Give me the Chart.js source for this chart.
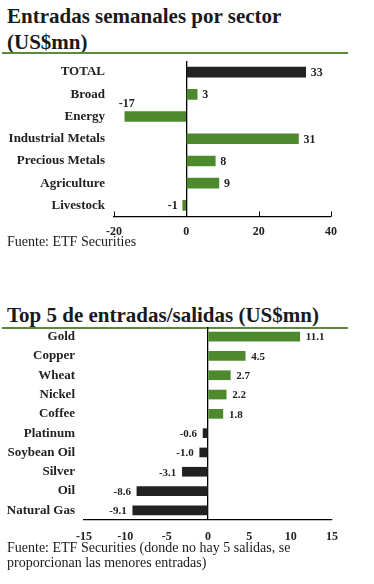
<!DOCTYPE html>
<html>
<head>
<meta charset="utf-8">
<script src="https://cdn.jsdelivr.net/npm/chart.js@4"></script>
<style>
  body { margin: 0; background: #fff; width: 374px; height: 584px; position: relative; overflow: hidden; }
  .title { position: absolute; left: 7px; font: bold 21px "Liberation Serif", serif; color: #1a1a1a; line-height: 26px; }
  .rule { position: absolute; left: 2px; width: 346px; height: 2px; background: #5b8a3c; }
  .note { position: absolute; left: 7px; font: 14px "Liberation Serif", serif; color: #1a1a1a; line-height: 15px; }
  canvas { position: absolute; left: 0; }
</style>
</head>
<body>
<div class="title" style="top:3px">Entradas semanales por sector<br>(US$mn)</div>
<div class="rule" style="top:52px"></div>
<canvas id="chart1" width="374" height="190" style="top:55px"></canvas>
<div class="note" style="top:234px">Fuente: ETF Securities</div>

<div class="title" style="top:302px">Top 5 de entradas/salidas (US$mn)</div>
<div class="rule" style="top:327px"></div>
<canvas id="chart2" width="374" height="230" style="top:325px"></canvas>
<div class="note" style="top:540px">Fuente: ETF Securities (donde no hay 5 salidas, se<br>proporcionan las menores entradas)</div>

<script>
// chart 1 data
const sectors = ["TOTAL", "Broad", "Energy", "Industrial Metals", "Precious Metals", "Agriculture", "Livestock"];
const sectorFlows = [33, 3, -17, 31, 8, 9, -1];
const sectorTicks = [-20, 0, 20, 40];

// chart 2 data
const topNames = ["Gold", "Copper", "Wheat", "Nickel", "Coffee", "Platinum", "Soybean Oil", "Silver", "Oil", "Natural Gas"];
const topFlows = [11.1, 4.5, 2.7, 2.2, 1.8, -0.6, -1.0, -3.1, -8.6, -9.1];
const topTicks = [-15, -10, -5, 0, 5, 10, 15];

const GREEN = "#4d8a2e";
const DARK = "#222222";
const FONT = "'Liberation Serif', serif";

// value labels next to bars
const valueLabels = {
  id: "valueLabels",
  afterDatasetsDraw(chart, args, opts) {
    const ctx = chart.ctx;
    const meta = chart.getDatasetMeta(0);
    const values = chart.data.datasets[0].data;
    ctx.save();
    ctx.font = "bold " + opts.size + "px " + FONT;
    ctx.fillStyle = DARK;
    ctx.textBaseline = "middle";
    meta.data.forEach((bar, i) => {
      const v = values[i];
      const txt = opts.fixed ? v.toFixed(1) : String(v);
      if (v >= 0) {
        ctx.textAlign = "left";
        ctx.fillText(txt, bar.x + opts.gap, bar.y + 1);
      } else if (opts.above && bar.base - bar.x > 30) {
        ctx.textAlign = "center";
        ctx.fillText(txt, bar.x + 2, bar.y - 13);
      } else {
        ctx.textAlign = "right";
        ctx.fillText(txt, bar.x - opts.gap, bar.y + 1);
      }
    });
    ctx.restore();
  }
};

// small upward tick marks on the x axis
const upTicks = {
  id: "upTicks",
  afterDraw(chart, args, opts) {
    if (!opts.show) return;
    const ctx = chart.ctx;
    const xs = chart.scales.x;
    const bottom = chart.chartArea.bottom;
    ctx.save();
    ctx.strokeStyle = "#000";
    ctx.lineWidth = 1;
    xs.ticks.forEach(t => {
      const px = Math.round(xs.getPixelForValue(t.value)) + 0.5;
      ctx.beginPath();
      ctx.moveTo(px, bottom);
      ctx.lineTo(px, bottom - 5);
      ctx.stroke();
    });
    ctx.restore();
  }
};

function renderBars(canvasId, labels, values, ticks, cfg) {
  const ctx = document.getElementById(canvasId).getContext("2d");
  new Chart(ctx, {
    type: "bar",
    data: {
      labels,
      datasets: [{
        data: values,
        backgroundColor: c => cfg.color(c.dataIndex, c.raw),
        barThickness: cfg.barThickness,
      }],
    },
    plugins: [valueLabels, upTicks],
    options: {
      indexAxis: "y",
      responsive: false,
      animation: false,
      layout: { padding: { top: cfg.top, right: cfg.right, left: 0, bottom: 0 } },
      plugins: {
        legend: { display: false },
        tooltip: { enabled: false },
        valueLabels: { size: cfg.labelSize, gap: cfg.gap, above: cfg.above, fixed: cfg.fixed },
        upTicks: { show: cfg.upTicks },
      },
      scales: {
        x: {
          min: ticks[0],
          max: ticks[ticks.length - 1],
          afterBuildTicks: s => { s.ticks = ticks.map(v => ({ value: v })); },
          afterFit: s => {
            s.height = cfg.xHeight;
            s.paddingLeft = 0;
            s.paddingRight = 0;
          },
          grid: {
            drawTicks: false,
            color: c => (c.tick && c.tick.value === 0 ? "#000" : "rgba(0,0,0,0)"),
            lineWidth: 1.3,
          },
          border: { display: true, color: "#000", width: 1.3 },
          ticks: {
            padding: cfg.tickPad,
            color: DARK,
            font: { family: FONT, weight: "bold", size: 12 },
          },
        },
        y: {
          afterFit: s => {
            s.width = cfg.yWidth;
            s.paddingTop = 0;
            s.paddingBottom = 0;
          },
          grid: { display: false, drawTicks: false },
          border: { display: false },
          ticks: {
            padding: 9,
            color: DARK,
            font: { family: FONT, weight: "bold", size: cfg.catSize },
          },
        },
      },
    },
  });
}

renderBars("chart1", sectors, sectorFlows, sectorTicks, {
  color: (i, v) => (i === 0 ? DARK : GREEN),
  barThickness: 10,
  top: 6, right: 43, xHeight: 28.5, yWidth: 114,
  tickPad: 8, labelSize: 12, catSize: 13, gap: 5, above: true, fixed: false, upTicks: true,
});

renderBars("chart2", topNames, topFlows, topTicks, {
  color: (i, v) => (v < 0 ? DARK : GREEN),
  barThickness: 9,
  top: 2, right: 42, xHeight: 35, yWidth: 84,
  tickPad: 10, labelSize: 11, catSize: 13, gap: 6, above: false, fixed: true, upTicks: false,
});
</script>
</body>
</html>
